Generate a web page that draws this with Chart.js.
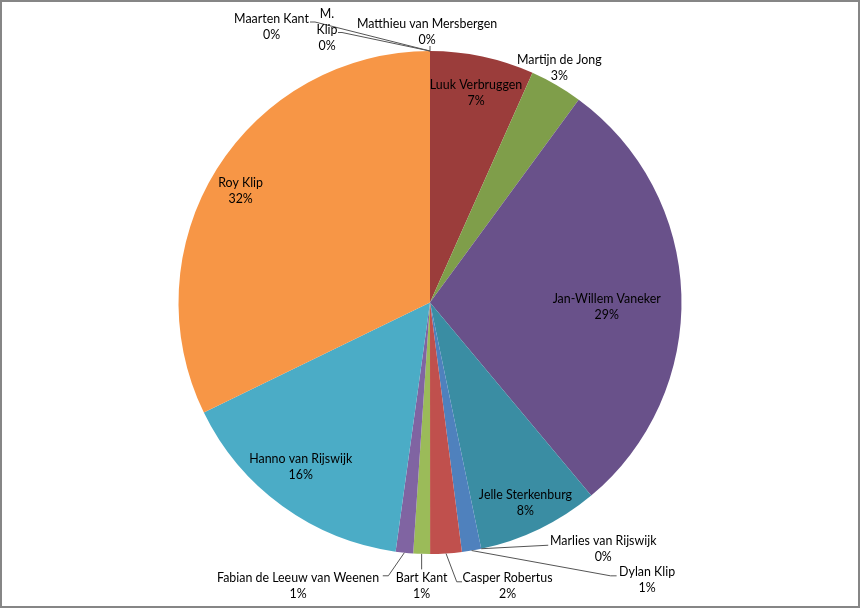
<!DOCTYPE html>
<html>
<head>
<meta charset="utf-8">
<script src="https://cdn.jsdelivr.net/npm/chart.js@4.4.1/dist/chart.umd.min.js"></script>
<style>
  html, body { margin: 0; padding: 0; background: #ffffff; }
  #wrap { width: 860px; height: 609px; position: relative; }
  canvas { display: block; }
</style>
</head>
<body>
<div id="wrap"><canvas id="c" width="860" height="609"></canvas></div>
<script>
// ---- data (clockwise from 12 o'clock) ----
const categories = [
  "Matthieu van Mersbergen",
  "Luuk Verbruggen",
  "Martijn de Jong",
  "Jan-Willem Vaneker",
  "Jelle Sterkenburg",
  "Marlies van Rijswijk",
  "Dylan Klip",
  "Casper Robertus",
  "Bart Kant",
  "Fabian de Leeuw van Weenen",
  "Hanno van Rijswijk",
  "Roy Klip",
  "Maarten Kant",
  "M. Klip"
];
const values = [0, 6.68, 3.39, 28.86, 7.81, 0, 1.24, 2.02, 1.07, 1.12, 15.61, 32.21, 0, 0];
const colors = [
  "#4F81BD", "#9B3D3B", "#7F9E4A", "#69518A", "#3A8DA3", "#C0504D",
  "#4F81BD", "#C0504D", "#9BBB59", "#8064A2", "#4BACC6", "#F79646",
  "#9BBB59", "#8064A2"
];

// ---- label layout (style / placement, not data) ----
const FONT = '12.4px Lato';
const LINE_H = 16;
const TEXT_COLOR = '#000000';
const LEADER_COLOR = '#555555';
const labelLayout = {
  "Matthieu van Mersbergen": { dx: -3, dy: -19.5, line: [[0, -5]] },
  "Luuk Verbruggen": { inside: true, f: 0.85, dx: 1.5, dy: 0 },
  "Martijn de Jong": { dx: 3, dy: -17.5 },
  "Jan-Willem Vaneker": { inside: true, f: 0.70, dx: 0.7, dy: 10 },
  "Jelle Sterkenburg": { inside: true, f: 0.885, dx: -1.5, dy: 0 },
  "Marlies van Rijswijk": { dx: 122, dy: 0.5, line: [[67, -3.5]] },
  "Dylan Klip": { dx: 175.5, dy: 29.5, line: [[145, 25.3], [139, 25.3]] },
  "Casper Robertus": { dx: 61.5, dy: 33, line: [[16, 28.3], [10.7, 28.3]] },
  "Bart Kant": { dx: 0, dy: 32.6, line: [[0, 15.5]] },
  "Fabian de Leeuw van Weenen": { dx: -106.3, dy: 33.8, line: [[-21.6, 23.1], [-16, 23.1]] },
  "Hanno van Rijswijk": { inside: true, f: 0.83, dx: -6.7, dy: -4.2 },
  "Roy Klip": { inside: true, f: 0.86, dx: -6, dy: 3.5 },
  "Maarten Kant": { dx: -158.5, dy: -24.5, line: [[-120, -29], [-115, -29]] },
  "M. Klip": { lines: ["M.", "Klip"], dx: -103, dy: -21.5, line: [[-92, -18.5], [-88, -18.5]] }
};

const framePlugin = {
  id: 'frame',
  beforeDraw(chart) {
    const ctx = chart.ctx;
    ctx.save();
    ctx.fillStyle = '#ffffff';
    ctx.fillRect(0, 0, chart.width, chart.height);
    ctx.restore();
  },
  afterDraw(chart) {
    const ctx = chart.ctx;
    ctx.save();
    ctx.strokeStyle = '#868686';
    ctx.lineWidth = 2;
    ctx.strokeRect(1, 1, 858, 606);
    ctx.restore();
  }
};

const labelPlugin = {
  id: 'pieLabels',
  afterDatasetsDraw(chart) {
    const ctx = chart.ctx;
    const meta = chart.getDatasetMeta(0);
    const total = values.reduce((a, b) => a + b, 0);
    ctx.save();
    ctx.font = FONT;
    ctx.textAlign = 'center';
    ctx.textBaseline = 'middle';
    meta.data.forEach((arc, i) => {
      const p = arc.getProps(['x', 'y', 'startAngle', 'endAngle', 'outerRadius'], true);
      const mid = (p.startAngle + p.endAngle) / 2;
      const spec = labelLayout[categories[i]];
      if (!spec) return;
      const pct = Math.round(values[i] / total * 100) + '%';
      const lines = (spec.lines || [categories[i]]).concat([pct]);
      let cx, cy;
      if (spec.inside) {
        const r = spec.f * p.outerRadius;
        cx = p.x + Math.cos(mid) * r + (spec.dx || 0);
        cy = p.y + Math.sin(mid) * r + (spec.dy || 0);
      } else {
        const ex = p.x + Math.cos(mid) * p.outerRadius;
        const ey = p.y + Math.sin(mid) * p.outerRadius;
        cx = ex + spec.dx;
        cy = ey + spec.dy;
        if (spec.line) {
          ctx.beginPath();
          ctx.strokeStyle = LEADER_COLOR;
          ctx.lineWidth = 1;
          ctx.moveTo(ex + spec.line[0][0], ey + spec.line[0][1]);
          for (let k = 1; k < spec.line.length; k++) {
            ctx.lineTo(ex + spec.line[k][0], ey + spec.line[k][1]);
          }
          ctx.lineTo(ex, ey);
          ctx.stroke();
        }
      }
      ctx.fillStyle = TEXT_COLOR;
      const top = cy - (lines.length - 1) * LINE_H / 2;
      lines.forEach((t, k) => ctx.fillText(t, cx, top + k * LINE_H));
    });
    ctx.restore();
  }
};

new Chart(document.getElementById('c'), {
  type: 'pie',
  data: {
    labels: categories,
    datasets: [{
      data: values,
      backgroundColor: colors,
      borderWidth: 0
    }]
  },
  options: {
    responsive: false,
    animation: false,
    layout: { padding: { top: 51, bottom: 55, left: 0, right: 0 } },
    plugins: {
      legend: { display: false },
      tooltip: { enabled: false }
    }
  },
  plugins: [framePlugin, labelPlugin]
});
</script>
</body>
</html>
